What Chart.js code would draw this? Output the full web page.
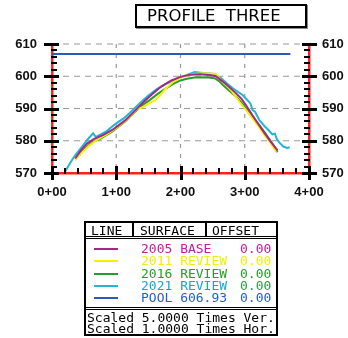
<!DOCTYPE html>
<html><head><meta charset="utf-8">
<script src="https://cdn.jsdelivr.net/npm/chart.js@4/dist/chart.umd.min.js"></script>
<style>
html,body{margin:0;padding:0;background:#fff;}
#wrap{position:relative;width:348px;height:338px;overflow:hidden;}
canvas{position:absolute;left:0;top:0;}
.t{position:absolute;white-space:pre;font-family:"DejaVu Sans Mono",monospace;font-size:13px;line-height:14px;}
#title{position:absolute;left:135px;top:4px;width:168px;height:20px;border:2px solid #000;box-shadow:1px 1px 0 #888;}
#title span{position:absolute;left:10px;top:1px;font-family:"DejaVu Sans",sans-serif;font-size:16.5px;line-height:18px;white-space:pre;}
#leg{position:absolute;left:84px;top:221px;width:190px;height:111px;border:2px solid #000;}
.hl{position:absolute;left:0;width:190px;border-top:3px double #000;height:0;}
.vl{position:absolute;top:0;height:14px;border-left:2px solid #000;}
.ls{position:absolute;left:8px;width:24px;height:2px;}
</style></head>
<body><div id="wrap"><canvas id="c" width="348" height="338"></canvas>
<div id="title"><span>PROFILE  THREE</span></div>
<div id="leg"></div>
</div>
<script>
const stations2005 = [36,45,55,65,80,95,105,115,125,135,145,158,170,185,200,215,230,245,255,265,275,285,295,302,310,320,330,340,351];
const elev2005 = [574.5,577,579.2,580.5,581.8,583.5,585,586.5,588.5,590.5,592.5,594.8,596.8,598.6,599.8,600.5,600.6,600.4,600,598.5,596.8,595,593,591,588.5,585.5,582.6,579.8,577];
const stations2011 = [36,45,58,70,85,100,112,122,132,140,150,160,168,176,190,205,220,235,255,262,270,280,292,300,310,320,330,340,349];
const elev2011 = [574,576,578.5,580.3,582,584,585.8,587.5,589.8,590.3,591.5,592.5,594,596,598.5,600,600.7,600.9,600.8,599,597.5,595.3,592,590,587.5,584.8,582,579.3,576.6];
const stations2016 = [42,50,62,75,93,100,113,122,132,142,152,165,178,190,200,210,222,240,253,260,266,276,287,295,302,312,323,331,338,345,351];
const elev2016 = [575.5,577.3,579.6,580.6,582.7,583.8,585.8,587.5,589.5,591.2,592.6,594.6,596.3,597.8,598.7,599.2,599.6,599.7,599.4,598.5,597.3,595.5,593.6,591.8,590,587.5,584.8,582.6,580.6,578.5,576.4];
const stations2021 = [20,28,36,48,58,64,68,76,85,100,112,121,137,150,163,176,188,200,212,222,235,250,263,272,282,297,305,309,312,316,323,331,338,343,347,350,354,360,366,370];
const elev2021 = [570.3,573,575.5,578.5,581,582.3,581.2,582,583,585.4,587,588.6,591.7,594,596,597.5,598.6,599.6,600.6,601.3,601,600.8,599.4,597.8,596.2,594.1,592.4,591.5,589.5,589,586.3,584.5,583.1,582,582.2,580.5,579.4,578.2,577.8,578];
const stationsPool = [0,371];
const elevPool = [606.93,606.93];
const xTicks = ["0+00","1+00","2+00","3+00","4+00"];
const yTickValues = [570,580,590,600,610];
const xTickValues = [0,100,200,300,400];
const yMinorValues = [572,574,576,578,582,584,586,588,592,594,596,598,602,604,606,608];
const xMinorValues = [20,40,60,80,120,140,160,180,220,240,260,280,320,340,360,380];
const legendRows = [
  {name:"2005 BASE", off:"0.00", line:"#a3288a", text:"#c0209a", offc:"#c0209a"},
  {name:"2011 REVIEW", off:"0.00", line:"#f2f200", text:"#eeee10", offc:"#eeee10"},
  {name:"2016 REVIEW", off:"0.00", line:"#2e9a2e", text:"#24a024", offc:"#24a024"},
  {name:"2021 REVIEW", off:"0.00", line:"#22b5d8", text:"#12a6d8", offc:"#28a040"},
  {name:"POOL 606.93", off:"0.00", line:"#2a5cb8", text:"#2060d0", offc:"#2060d0"}
];

function pts(xs, ys){ return xs.map((x,i)=>({x:x,y:ys[i]})); }

const gridPlugin = {
  id:'dashGridLines',
  beforeDatasetsDraw(chart){
    const ctx = chart.ctx, xs = chart.scales.x, ys = chart.scales.y;
    const ca = chart.chartArea;
    ctx.save();
    ctx.strokeStyle = '#999999';
    ctx.lineWidth = 1.2;
    ctx.setLineDash([6,5]);
    yTickValues.forEach(v=>{
      if(v<=570) return;
      const y = ys.getPixelForValue(v);
      ctx.beginPath(); ctx.moveTo(ca.left,y); ctx.lineTo(ca.right,y); ctx.stroke();
    });
    ctx.setLineDash([4,6]);
    xTickValues.forEach(v=>{
      if(v<=0 || v>=400) return;
      const x = xs.getPixelForValue(v);
      ctx.beginPath(); ctx.moveTo(x,ca.top); ctx.lineTo(x,ca.bottom); ctx.stroke();
    });
    ctx.restore();
  },
  afterDraw(chart){
    const ctx = chart.ctx, xs = chart.scales.x, ys = chart.scales.y;
    const ca = chart.chartArea;
    const L = Math.round(ca.left), R = Math.round(ca.right), B = Math.round(ca.bottom);
    ctx.save();
    ctx.globalCompositeOperation = 'source-over';
    ctx.globalAlpha = 1;
    ctx.fillStyle = '#000000';
    yTickValues.forEach(v=>{
      const y = Math.round(ys.getPixelForValue(v));
      ctx.fillRect(L-8, y-1, 15, 3);
      ctx.fillRect(R-7, y-1, 15, 3);
    });
    yMinorValues.forEach(v=>{
      const y = Math.round(ys.getPixelForValue(v));
      ctx.fillRect(L-1, y-1, 6, 2);
      ctx.fillRect(R-5, y-1, 6, 2);
    });
    xTickValues.forEach(v=>{
      const x = Math.round(xs.getPixelForValue(v));
      ctx.fillRect(x-1, B-7, 3, 14);
    });
    xMinorValues.forEach(v=>{
      const x = Math.round(xs.getPixelForValue(v));
      ctx.fillRect(x-1, B-5, 2, 6);
    });
    ctx.restore();
  }
};

const ds = (label, data, color, w) => ({label, data, borderColor:color, backgroundColor:color, borderWidth:w||2, pointRadius:0, tension:0, fill:false});

new Chart(document.getElementById('c'), {
  type:'line',
  data:{datasets:[
    ds('POOL', pts(stationsPool, elevPool), '#2a5cb8', 2),
    ds('2005 BASE', pts(stations2005, elev2005), '#a3288a', 2),
    ds('2011 REVIEW', pts(stations2011, elev2011), '#f2f200', 2),
    ds('2016 REVIEW', pts(stations2016, elev2016), '#2e9a2e', 2),
    ds('2021 REVIEW', pts(stations2021, elev2021), '#22b5d8', 2)
  ]},
  options:{
    responsive:false, animation:false, clip:false,
    layout:{padding:{top:44,left:0,right:0,bottom:0}},
    plugins:{legend:{display:false}, tooltip:{enabled:false}},
    scales:{
      x:{type:'linear', min:0, max:400,
        afterFit(s){ s.height = 165; },
        afterBuildTicks(s){ s.ticks = xTickValues.map(v=>({value:v})); },
        ticks:{callback:(v)=>xTicks[Math.round(v/100)], color:'#111', font:{family:'Liberation Sans, Arial', size:13, weight:'bold'}, padding:12, maxRotation:0, autoSkip:false},
        grid:{display:false, drawTicks:false},
        border:{display:true, color:'#ff2020', width:2.5}
      },
      y:{type:'linear', position:'left', min:570, max:610,
        afterFit(s){ s.width = 52; },
        ticks:{stepSize:10, color:'#111', font:{family:'Liberation Sans, Arial', size:13, weight:'bold'}, padding:15},
        grid:{display:false, drawTicks:false},
        border:{display:true, color:'#ff2020', width:2.5}
      },
      y2:{type:'linear', position:'right', min:570, max:610,
        afterFit(s){ s.width = 39; },
        ticks:{stepSize:10, color:'#111', font:{family:'Liberation Sans, Arial', size:13, weight:'bold'}, padding:13},
        grid:{display:false, drawTicks:false},
        border:{display:true, color:'#ff2020', width:2.5}
      }
    }
  },
  plugins:[gridPlugin]
});

// Legend box (HTML text)
const leg = document.getElementById('leg');
function add(cls, style, txt){ const d=document.createElement('div'); d.className=cls; Object.assign(d.style, style); if(txt!=null) d.textContent=txt; leg.appendChild(d); return d; }
add('t',{left:'5px',top:'1px',color:'#000'},'LINE');
add('vl',{left:'46px'});
add('t',{left:'54px',top:'1px',color:'#000'},'SURFACE');
add('vl',{left:'119px'});
add('t',{left:'126px',top:'1px',color:'#000'},'OFFSET');
add('hl',{top:'13px'});
const rowC = [25.5, 38, 51, 63, 75];
legendRows.forEach((r,i)=>{
  add('ls',{top:(rowC[i]-1)+'px', background:r.line});
  add('t',{left:'55px',top:(rowC[i]-7)+'px',color:r.text},r.name);
  add('t',{left:'154px',top:(rowC[i]-7)+'px',color:r.offc},r.off);
});
add('hl',{top:'84px'});
add('t',{left:'1px',top:'88px',color:'#000'},'Scaled 5.0000 Times Ver.');
add('t',{left:'1px',top:'99px',color:'#000'},'Scaled 1.0000 Times Hor.');
</script>
</body></html>
